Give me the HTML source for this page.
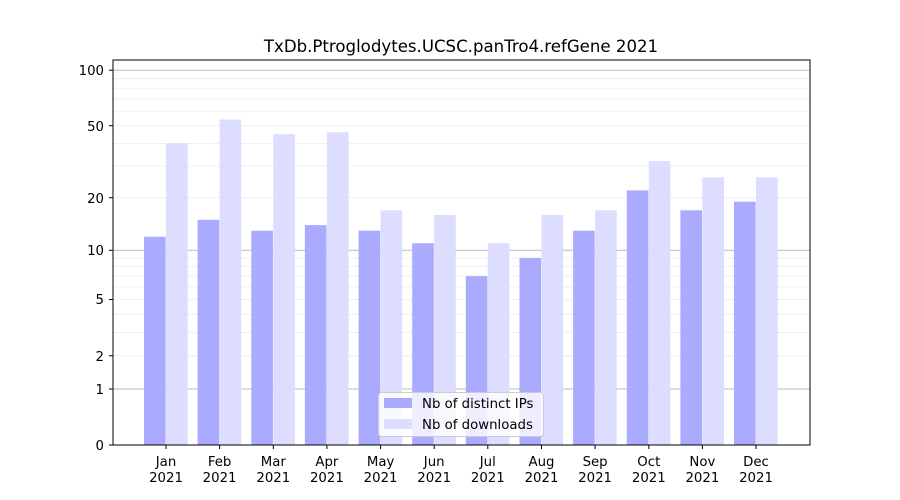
<!DOCTYPE html>
<html><head><meta charset="utf-8"><style>body{margin:0;background:#fff}svg{display:block;font-family:"DejaVu Sans","Liberation Sans",sans-serif}</style></head><body>
<svg width="900" height="500" viewBox="0 0 900 500" xmlns="http://www.w3.org/2000/svg">
<rect width="900" height="500" fill="#fff"/>
<g stroke="#ebebeb" stroke-width="0.8">
<line x1="113" x2="810" y1="355.8" y2="355.8"/><line x1="113" x2="810" y1="332.4" y2="332.4"/><line x1="113" x2="810" y1="314.3" y2="314.3"/><line x1="113" x2="810" y1="299.5" y2="299.5"/><line x1="113" x2="810" y1="287" y2="287"/><line x1="113" x2="810" y1="276.1" y2="276.1"/><line x1="113" x2="810" y1="266.6" y2="266.6"/><line x1="113" x2="810" y1="258" y2="258"/>
<line x1="113" x2="810" y1="197.7" y2="197.7"/><line x1="113" x2="810" y1="166.1" y2="166.1"/><line x1="113" x2="810" y1="143.4" y2="143.4"/><line x1="113" x2="810" y1="125.7" y2="125.7"/><line x1="113" x2="810" y1="111.1" y2="111.1"/><line x1="113" x2="810" y1="98.8" y2="98.8"/><line x1="113" x2="810" y1="88.1" y2="88.1"/><line x1="113" x2="810" y1="78.7" y2="78.7"/>
</g>
<g stroke="#bbbbbb" stroke-width="1">
<line x1="113" x2="810" y1="389" y2="389"/><line x1="113" x2="810" y1="250.3" y2="250.3"/><line x1="113" x2="810" y1="70.2" y2="70.2"/>
</g>
<g fill="#aaaaff">
<rect x="144" y="236.7" width="21.6" height="208.3"/>
<rect x="197.6" y="219.8" width="21.6" height="225.2"/>
<rect x="251.3" y="230.7" width="21.6" height="214.3"/>
<rect x="304.9" y="225.1" width="21.6" height="219.9"/>
<rect x="358.6" y="230.7" width="21.6" height="214.3"/>
<rect x="412.2" y="243.2" width="21.6" height="201.8"/>
<rect x="465.8" y="276.1" width="21.6" height="168.9"/>
<rect x="519.5" y="258" width="21.6" height="187"/>
<rect x="573.1" y="230.7" width="21.6" height="214.3"/>
<rect x="626.8" y="190.4" width="21.6" height="254.6"/>
<rect x="680.4" y="210.3" width="21.6" height="234.7"/>
<rect x="734" y="201.7" width="21.6" height="243.3"/>
</g>
<g fill="#ddddff">
<rect x="166" y="143.4" width="21.6" height="301.6"/>
<rect x="219.6" y="119.5" width="21.6" height="325.5"/>
<rect x="273.3" y="134.1" width="21.6" height="310.9"/>
<rect x="326.9" y="132.3" width="21.6" height="312.7"/>
<rect x="380.6" y="210.3" width="21.6" height="234.7"/>
<rect x="434.2" y="214.9" width="21.6" height="230.1"/>
<rect x="487.8" y="243.2" width="21.6" height="201.8"/>
<rect x="541.5" y="214.9" width="21.6" height="230.1"/>
<rect x="595.1" y="210.3" width="21.6" height="234.7"/>
<rect x="648.8" y="161" width="21.6" height="284"/>
<rect x="702.4" y="177.3" width="21.6" height="267.7"/>
<rect x="756" y="177.3" width="21.6" height="267.7"/>
</g>
<rect x="113" y="60" width="697" height="385" fill="none" stroke="#000" stroke-width="1"/>
<g stroke="#000" stroke-width="1">
<line x1="109" x2="113" y1="445" y2="445"/><line x1="109" x2="113" y1="389" y2="389"/><line x1="109" x2="113" y1="355.8" y2="355.8"/><line x1="109" x2="113" y1="299.5" y2="299.5"/><line x1="109" x2="113" y1="250.3" y2="250.3"/><line x1="109" x2="113" y1="197.7" y2="197.7"/><line x1="109" x2="113" y1="125.7" y2="125.7"/><line x1="109" x2="113" y1="70.2" y2="70.2"/>
<line x1="166" x2="166" y1="445" y2="449"/><line x1="219.6" x2="219.6" y1="445" y2="449"/><line x1="273.3" x2="273.3" y1="445" y2="449"/><line x1="326.9" x2="326.9" y1="445" y2="449"/><line x1="380.6" x2="380.6" y1="445" y2="449"/><line x1="434.2" x2="434.2" y1="445" y2="449"/><line x1="487.8" x2="487.8" y1="445" y2="449"/><line x1="541.5" x2="541.5" y1="445" y2="449"/><line x1="595.1" x2="595.1" y1="445" y2="449"/><line x1="648.8" x2="648.8" y1="445" y2="449"/><line x1="702.4" x2="702.4" y1="445" y2="449"/><line x1="756" x2="756" y1="445" y2="449"/>
</g>
<g font-size="13.3" text-anchor="end" fill="#000">
<text x="104" y="450">0</text><text x="104" y="394">1</text><text x="104" y="361">2</text><text x="104" y="304">5</text><text x="104" y="255">10</text><text x="104" y="203">20</text><text x="104" y="131">50</text><text x="104" y="75">100</text>
</g>
<g font-size="13.3" text-anchor="middle" fill="#000">
<text x="166" y="466">Jan</text><text x="166" y="482">2021</text>
<text x="219.6" y="466">Feb</text><text x="219.6" y="482">2021</text>
<text x="273.3" y="466">Mar</text><text x="273.3" y="482">2021</text>
<text x="326.9" y="466">Apr</text><text x="326.9" y="482">2021</text>
<text x="380.6" y="466">May</text><text x="380.6" y="482">2021</text>
<text x="434.2" y="466">Jun</text><text x="434.2" y="482">2021</text>
<text x="487.8" y="466">Jul</text><text x="487.8" y="482">2021</text>
<text x="541.5" y="466">Aug</text><text x="541.5" y="482">2021</text>
<text x="595.1" y="466">Sep</text><text x="595.1" y="482">2021</text>
<text x="648.8" y="466">Oct</text><text x="648.8" y="482">2021</text>
<text x="702.4" y="466">Nov</text><text x="702.4" y="482">2021</text>
<text x="756" y="466">Dec</text><text x="756" y="482">2021</text>
<text x="461" y="52" font-size="16.6">TxDb.Ptroglodytes.UCSC.panTro4.refGene 2021</text>
</g>
<rect x="378.5" y="392.5" width="165" height="44" rx="3" fill="#fff" fill-opacity="0.8" stroke="#cccccc"/>
<rect x="384" y="398" width="28" height="10" fill="#aaaaff"/>
<rect x="384" y="419" width="28" height="10" fill="#ddddff"/>
<text x="422" y="408" font-size="13.3">Nb of distinct IPs</text>
<text x="422" y="429" font-size="13.3">Nb of downloads</text>
</svg>
</body></html>
